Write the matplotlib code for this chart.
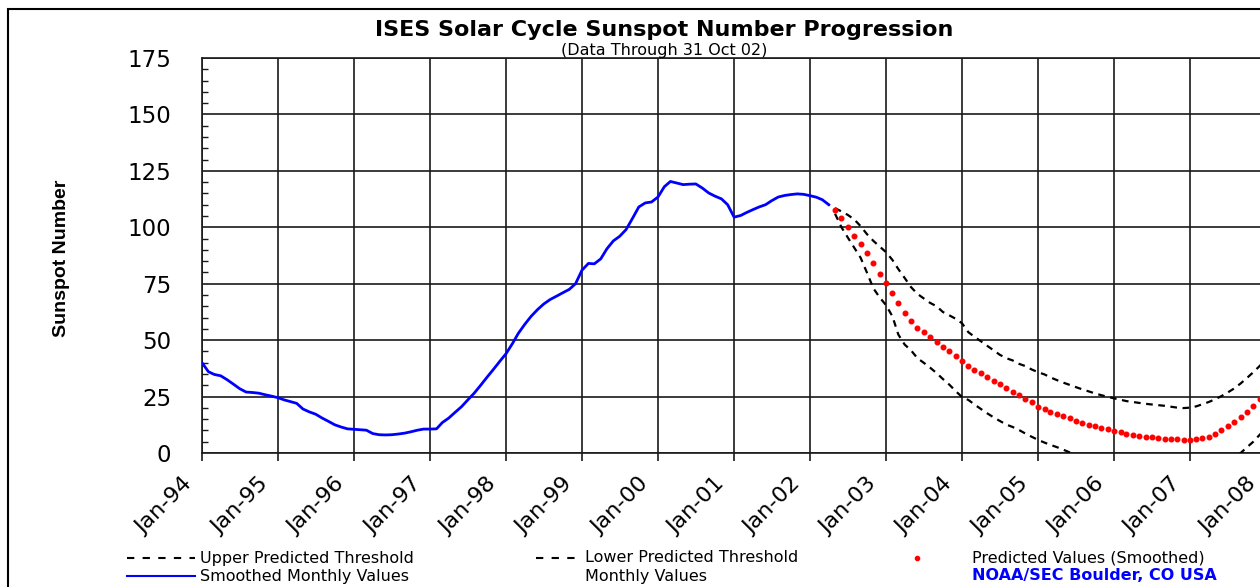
import matplotlib
matplotlib.use("Agg")
import matplotlib.pyplot as plt
import matplotlib.dates as mdates
from matplotlib.lines import Line2D
from matplotlib.patches import Rectangle
from matplotlib.transforms import ScaledTranslation
import pandas as pd

# ---------------- data ----------------
# Smoothed monthly sunspot numbers, Jan 1994 .. Apr 2002
smoothed = [
    40, 36, 34.8, 34.2, 32.5, 30.5, 28.5, 27, 26.8, 26.5, 25.8, 25.2,          # 1994
    24.5, 23.5, 22.8, 22, 19.5, 18.2, 17.2, 15.5, 14, 12.5, 11.5, 10.7,        # 1995
    10.5, 10.3, 10.1, 8.6, 8.1, 8.0, 8.1, 8.4, 8.8, 9.4, 10.1, 10.6,           # 1996
    10.6, 10.7, 13.5, 15.5, 18, 20.5, 23.5, 26.5, 30, 33.5, 37, 40.5,          # 1997
    44, 48.5, 53, 57, 60.5, 63.5, 66, 68, 69.5, 71, 72.5, 75,                  # 1998
    81, 84, 83.8, 86, 90.5, 94, 96, 99, 104, 109, 110.8, 111.2,                # 1999
    113.4, 118, 120.3, 119.6, 118.9, 119.1, 119.2, 117.4, 115.2, 113.8, 112.6, 110,  # 2000
    104.5, 105.2, 106.5, 107.8, 109, 110, 111.8, 113.4, 114.1, 114.5, 114.8, 114.6,  # 2001
    114, 113.3, 112.2, 110,                                                    # 2002
]
smoothed_start = "1994-01-01"

# Predicted values (smoothed) and thresholds, May 2002 .. Jan 2008
predicted = [
    107.5, 104, 100, 96, 92.5, 88.5, 84, 79.5,
    75.5, 71, 66.5, 62, 58.5, 55.5, 53.5, 51.3, 49, 47, 45, 43,
    40.8, 38.6, 36.9, 35.3, 33.6, 32, 30.4, 28.8, 27.1, 25.5, 24, 22.6,
    20.6, 19.4, 18.3, 17.3, 16.3, 15.3, 14.3, 13.4, 12.6, 11.8, 11.1, 10.5,
    9.8, 9.2, 8.6, 8.1, 7.6, 7.2, 6.9, 6.6, 6.4, 6.2, 6.0, 5.9,
    5.8, 6.0, 6.5, 7.3, 8.6, 10.1, 11.8, 13.6, 15.8, 18.3, 21, 23.8,
    26.8,
]
upper = [
    108.5, 107, 105.5, 103.5, 100.5, 97, 94, 91.5,
    89, 85.5, 81.5, 77.5, 73.5, 70.5, 68.5, 66.5, 65, 62.5, 61, 59.5,
    57.5, 53.5, 51.5, 49.5, 47.5, 45.5, 43.5, 42, 41, 39.5, 38.5, 37,
    35.8, 34.8, 33.5, 32.3, 31.2, 30.2, 29.2, 28.2, 27.3, 26.4, 25.6, 24.9,
    24.2, 23.6, 23, 22.6, 22.2, 21.8, 21.5, 21.2, 20.9, 20.5, 20.1, 19.9,
    20.1, 20.7, 21.6, 22.6, 23.8, 25.2, 26.8, 28.6, 30.8, 33.2, 35.8, 38.5,
    41.5,
]
lower = [
    106, 100, 95.5, 91, 86.5, 80, 73, 69,
    65.5, 60.5, 52.5, 48, 45.5, 42, 40, 37.8, 35.4, 32.8, 30.3, 27.5,
    24.8, 23.5, 21.5, 19.5, 17.6, 15.8, 14.2, 12.6, 11.5, 10.2, 8.6, 7.2,
    5.8, 4.6, 3.6, 2.6, 1.5, 0.3, -0.8, -2, -3, -4, -5, -5.5,
    -6, -6.3, -6.5, -7, -7.2, -7.5, -7.6, -7.8, -8, -8.1, -8.2, -8.3,
    -8.4, -8.5, -8.3, -8, -7, -5.5, -4, -2, 0, 2.5, 5, 8,
    11,
]
predicted_start = "2002-05-01"

title = "ISES Solar Cycle Sunspot Number Progression"
subtitle = "(Data Through 31 Oct 02)"
ylabel = "Sunspot Number"
legend_labels = ["Upper Predicted Threshold", "Smoothed Monthly Values",
                 "Lower Predicted Threshold", "Monthly Values",
                 "Predicted Values (Smoothed)"]
credit = "NOAA/SEC Boulder, CO USA"

# ---------------- figure ----------------
W, H = 1260, 587
fig = plt.figure(figsize=(W / 100, H / 100), dpi=100)
fig.patch.set_facecolor("white")

def fx(px):
    return px / W

def fy(py):
    return 1 - py / H

ax_left, ax_right, ax_top, ax_bot = 202, 1266, 58, 453
ax = fig.add_axes([fx(ax_left), fy(ax_bot), fx(ax_right - ax_left), (ax_bot - ax_top) / H])

t_s = pd.date_range(smoothed_start, periods=len(smoothed), freq="MS")
t_p = pd.date_range(predicted_start, periods=len(predicted), freq="MS")

ax.plot(t_p, upper, color="black", lw=1.6, ls=(0, (3, 2.5)), zorder=3)
ax.plot(t_p, lower, color="black", lw=1.6, ls=(0, (3, 2.5)), zorder=3)
ax.plot(t_s, smoothed, color="#0000ff", lw=2.0, zorder=4)
ax.plot(t_p, predicted, ls="none", marker="o", ms=3.3, color="#ff0000",
        mec="#ff0000", zorder=5)

ax.set_ylim(0, 175)
ax.set_xlim(pd.Timestamp("1994-01-01"), pd.Timestamp("2008-01-01"))
ax.set_yticks(range(0, 176, 25))
ax.set_yticks(range(0, 176, 5), minor=True)
ax.xaxis.set_major_locator(mdates.YearLocator())
ax.xaxis.set_major_formatter(mdates.DateFormatter("%b-%y"))

ax.grid(True, which="major", color="#1a1a1a", lw=1.2)
ax.set_axisbelow(True)
for s in ax.spines.values():
    s.set_color("#1a1a1a")
    s.set_linewidth(1.2)

ax.tick_params(axis="y", which="major", direction="in", length=0, pad=22,
               labelsize=16.5)
ax.tick_params(axis="y", which="minor", direction="in", length=4, width=1,
               color="#1a1a1a")
ax.tick_params(axis="x", which="major", direction="out", length=6, width=1.2,
               color="#1a1a1a", labelsize=16, pad=6)
for lab in ax.get_yticklabels():
    lab.set_family("DejaVu Sans")
offset = ScaledTranslation(-9 / 72, -8 / 72, fig.dpi_scale_trans)
for lab in ax.get_xticklabels():
    lab.set_family("DejaVu Sans")
    lab.set_rotation(45)
    lab.set_ha("right")
    lab.set_va("center")
    lab.set_rotation_mode("anchor")
    lab.set_transform(lab.get_transform() + offset)

# y label
fig.text(fx(61), fy(258), ylabel, rotation=90, ha="center", va="center",
         fontsize=14, fontweight="bold", family="Liberation Sans")

# titles
fig.text(fx(664), fy(30), title, ha="center", va="center", fontsize=16,
         fontweight="bold", family="DejaVu Sans")
fig.text(fx(664), fy(50), subtitle, ha="center", va="center", fontsize=11.5,
         family="DejaVu Sans")

# outer frame (cut off at right and bottom like the reference)
fig.add_artist(Rectangle((fx(8), -0.2), 1.2, fy(9) + 0.2, transform=fig.transFigure,
                         fill=False, lw=1.5, ec="black"))

# legend (manual layout)
row1, row2 = 558, 576
fs_leg = 11.5
fig.add_artist(Line2D([fx(127), fx(195)], [fy(row1), fy(row1)], transform=fig.transFigure,
                      color="black", lw=1.5, ls=(0, (3.5, 4))))
fig.text(fx(200), fy(row1), legend_labels[0], ha="left", va="center",
         fontsize=fs_leg, family="DejaVu Sans")
fig.add_artist(Line2D([fx(127), fx(195)], [fy(row2), fy(row2)], transform=fig.transFigure,
                      color="#0000ff", lw=1.5))
fig.text(fx(200), fy(row2), legend_labels[1], ha="left", va="center",
         fontsize=fs_leg, family="DejaVu Sans")
fig.add_artist(Line2D([fx(536), fx(580)], [fy(row1), fy(row1)], transform=fig.transFigure,
                      color="black", lw=1.5, ls=(0, (3.5, 4))))
fig.text(fx(585), fy(row1), legend_labels[2], ha="left", va="center",
         fontsize=fs_leg, family="DejaVu Sans")
fig.text(fx(585), fy(row2), legend_labels[3], ha="left", va="center",
         fontsize=fs_leg, family="DejaVu Sans")
fig.add_artist(Line2D([fx(917)], [fy(row1)], transform=fig.transFigure,
                      ls="none", marker="o", ms=3, color="#ff0000"))
fig.text(fx(972), fy(row1), legend_labels[4], ha="left", va="center",
         fontsize=fs_leg, family="DejaVu Sans")
fig.text(fx(972), fy(row2), credit, ha="left", va="center",
         fontsize=11.5, fontweight="bold", color="#0000ff", family="DejaVu Sans")

fig.savefig("out.png", dpi=100)
